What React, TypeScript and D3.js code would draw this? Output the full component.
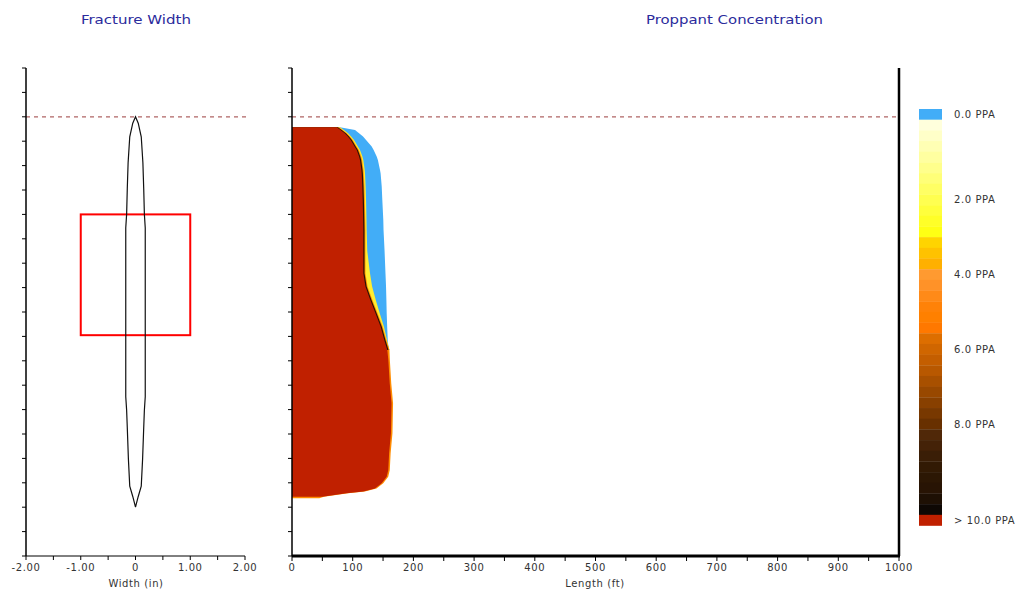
import React from "react";
import * as d3 from "d3";

// ---- data ----
const depthAxisTicks = d3.range(0, 201, 10); // depth units (unlabelled axis)
const surfaceDepth = 20;

// fracture width profile (half-width in inches vs depth)
const widthDepth = [20, 22.6, 28.2, 38.8, 49.4, 59.9, 65.6, 134.7, 140.3, 147.4, 160.1, 171.4, 175.6, 180];
const widthHalf = [0, 0.05, 0.105, 0.135, 0.15, 0.162, 0.178, 0.178, 0.162, 0.15, 0.13, 0.105, 0.05, 0];
// perforated interval box
const boxDepth = [60, 109.5];
const boxWidth = [-1, 1];

// proppant concentration profile (length in ft vs depth)
const propDepth = [24.3, 25.4, 26.8, 28.1, 29.5, 32.2, 33.6, 36.3, 37.7, 41.8, 43.2, 48.6, 54.1, 62.3, 66.4, 75.0, 84.1, 89.6, 95.1, 100.5, 106.0, 111.5, 113.5, 115.6, 119.7, 129.2, 137.4, 149.7, 157.9, 164.8, 167.5, 170.2, 172.3, 173.6, 174.3, 175.0, 175.7, 176.3];
const len0PPA = [79, 103.8, 111, 117, 122, 131.3, 134.5, 139.5, 141.5, 145, 146, 147.8, 148.8, 150.4, 150.8, 152.5, 154, 154.9, 155.5, 156, 156.8, 157.7, 158.5, 160.5, null, null, null, null, null, null, null, null, null, null, null, null, null, null];
const len1PPA = [79, 85.5, 92.8, 97.5, 102.2, 108.5, 112, 116, 117.5, 119.8, 120.3, 121.3, 122, 122.7, 123, 124, 128.5, 132, 138, 144.5, 151.5, 156.5, 158.5, 160.5, null, null, null, null, null, null, null, null, null, null, null, null, null, null];
const len5PPA = [77.1, 83.5, 90.8, 95.5, 100.2, 106.5, 110.1, 114, 115.5, 117.8, 118.3, 119.3, 120, 120.7, 121, 121, 121, 124.5, 132.5, 141, 149.5, 155.5, 158, 160.5, 161.2, 163.5, 166.5, 165.5, 162.5, 161.1, 158.5, 150.3, 139.2, 120, 92.5, 72.5, 52.5, 45];
const len9PPA = [75.6, 82, 89.3, 94, 98.7, 105, 108.6, 112.5, 114, 116.3, 116.8, 117.8, 118.5, 119.2, 119.5, 119.5, 119.5, 123, 131, 139.5, 148, 154, 156.5, 159, null, null, null, null, null, null, null, null, null, null, null, null, null, null];
const len10PPA = [73.6, 80, 87.3, 92, 96.7, 103, 106.6, 110.5, 112, 114.3, 114.8, 115.8, 116.5, 117.2, 117.5, 117.5, 117.5, 121, 129, 137.5, 146, 152, 154.5, 157, 158.7, 161, 164, 163, 160, 158.6, 156, 147.8, 136.7, 117.5, 90, 70, 50, null];

// colour legend
const legendColors = [
  "#42adf7",
  "#ffffdc", "#ffffc8", "#ffffb4", "#ffffa0", "#ffff8c", "#ffff78", "#ffff64", "#ffff50", "#ffff3c", "#ffff28", "#ffff14",
  "#ffd400", "#ffc200", "#ffb000", "#ff9a30", "#ff9228", "#ff8a18", "#ff8208", "#ff8000", "#ff7800",
  "#dd6e00", "#d06600", "#c45e00", "#b85800", "#a85000", "#984800", "#884000", "#783800", "#683000",
  "#502808", "#442208", "#3a1e06", "#321a04", "#2c1704", "#281404", "#1e1004", "#0e0804",
  "#c02000",
];
const legendLabels = ["0.0 PPA", "2.0 PPA", "4.0 PPA", "6.0 PPA", "8.0 PPA", "> 10.0 PPA"];
const legendLabelCells = [0, 8, 15, 22, 29, 38];

const widthTicks = d3.range(-2, 2.01, 0.5);
const lengthTicks = d3.range(0, 1001, 50);

const layerColors = {
  p0: "#42adf7",
  p1: "#ffee30",
  p5: "#ff8c00",
  p9: "#2a1404",
  p10: "#c02000",
};

type Row = { depth: number; v: number | null };

export default function App() {
  const y = d3.scaleLinear().domain([0, 200]).range([68, 556]);
  const xW = d3.scaleLinear().domain([-2, 2]).range([26, 245]);
  const xL = d3.scaleLinear().domain([0, 1000]).range([292, 899]);

  const rows = (arr: (number | null)[]): Row[] => propDepth.map((d, i) => ({ depth: d, v: arr[i] }));
  const area = d3
    .area<Row>()
    .defined((d) => d.v != null)
    .y((d) => y(d.depth))
    .x0(xL(0))
    .x1((d) => xL(d.v as number));

  const widthPts: [number, number][] = [
    ...widthDepth.map((d, i) => [xW(widthHalf[i]), y(d)] as [number, number]),
    ...widthDepth
      .map((d, i) => [xW(-widthHalf[i]), y(d)] as [number, number])
      .reverse(),
  ];
  const widthPath = d3.line().curve(d3.curveLinearClosed)(widthPts) || "";

  const band = d3
    .scaleBand<number>()
    .domain(d3.range(legendColors.length))
    .range([109, 525.5]);

  const tickFont = {
    fontFamily: "'DejaVu Sans', Verdana, sans-serif",
    fontSize: 10,
    fill: "#333",
    letterSpacing: 0.6,
  };
  const titleFont = {
    fontFamily: "'DejaVu Sans Condensed', 'DejaVu Sans', sans-serif",
    fontSize: 12.5,
    fill: "#2b2b9c",
  };
  const fmtW = (t: number) => (t === 0 ? "0" : t.toFixed(2));

  const yAxis = (x0: number) => (
    <g>
      <line x1={x0} x2={x0} y1={y(0)} y2={y(200)} stroke="#000" strokeWidth={1.5} />
      {depthAxisTicks.map((t) => (
        <line key={t} x1={x0 - 4} x2={x0} y1={y(t)} y2={y(t)} stroke="#000" strokeWidth={1} />
      ))}
    </g>
  );

  return (
    <svg width={1032} height={590} style={{ position: "absolute", left: 0, top: 0, background: "#fff" }}>
      <rect width={1032} height={590} fill="#fff" />
      {/* titles */}
      <text x={81} y={24} textLength={110} lengthAdjust="spacingAndGlyphs" {...titleFont}>Fracture Width</text>
      <text x={646} y={24} textLength={177} lengthAdjust="spacingAndGlyphs" {...titleFont}>Proppant Concentration</text>

      {/* ---- left panel ---- */}
      <line x1={xW(-2)} x2={247} y1={y(surfaceDepth)} y2={y(surfaceDepth)} stroke="#b06464" strokeWidth={1.2} strokeDasharray="4,4" />
      <rect
        x={xW(boxWidth[0])}
        y={y(boxDepth[0])}
        width={xW(boxWidth[1]) - xW(boxWidth[0])}
        height={y(boxDepth[1]) - y(boxDepth[0])}
        fill="none"
        stroke="#ff0000"
        strokeWidth={2}
      />
      <path d={widthPath} fill="none" stroke="#111" strokeWidth={1.2} />
      {yAxis(xW(-2))}
      <line x1={xW(-2)} x2={xW(2)} y1={y(200)} y2={y(200)} stroke="#000" strokeWidth={1} />
      {widthTicks.map((t) => (
        <g key={t}>
          <line x1={xW(t)} x2={xW(t)} y1={y(200)} y2={y(200) + 4} stroke="#000" />
          {Math.abs(t % 1) < 1e-9 && (
            <text x={xW(t)} y={571} textAnchor="middle" {...tickFont}>
              {fmtW(t)}
            </text>
          )}
        </g>
      ))}
      <text x={136} y={587} textAnchor="middle" {...tickFont}>Width (in)</text>

      {/* ---- right panel ---- */}
      <path d={area(rows(len0PPA)) || ""} fill={layerColors.p0} />
      <path d={area(rows(len1PPA)) || ""} fill={layerColors.p1} />
      <path d={area(rows(len5PPA)) || ""} fill={layerColors.p5} />
      <path d={area(rows(len9PPA)) || ""} fill={layerColors.p9} />
      <path d={area(rows(len10PPA)) || ""} fill={layerColors.p10} />
      <line x1={xL(0)} x2={xL(1000)} y1={y(surfaceDepth)} y2={y(surfaceDepth)} stroke="#b06464" strokeWidth={1.2} strokeDasharray="4,4" />
      {yAxis(xL(0))}
      <line x1={xL(1000)} x2={xL(1000)} y1={y(0)} y2={y(200)} stroke="#000" strokeWidth={2.5} />
      <line x1={xL(0)} x2={xL(1000) + 1} y1={y(200)} y2={y(200)} stroke="#000" strokeWidth={3} />
      {lengthTicks.map((t) => (
        <g key={t}>
          <line x1={xL(t)} x2={xL(t)} y1={y(200)} y2={y(200) + 5} stroke="#000" />
          {t % 100 === 0 && (
            <text x={xL(t)} y={571} textAnchor="middle" {...tickFont}>{t}</text>
          )}
        </g>
      ))}
      <text x={595} y={587} textAnchor="middle" {...tickFont}>Length (ft)</text>

      {/* ---- legend ---- */}
      {legendColors.map((c, i) => (
        <rect key={i} x={919} y={band(i)} width={23} height={band.bandwidth() + 0.3} fill={c} />
      ))}
      {legendLabels.map((l, i) => (
        <text
          key={l}
          x={954}
          y={(band(legendLabelCells[i]) as number) + band.bandwidth() / 2 + 3.5}
          {...tickFont}
        >
          {l}
        </text>
      ))}
    </svg>
  );
}
